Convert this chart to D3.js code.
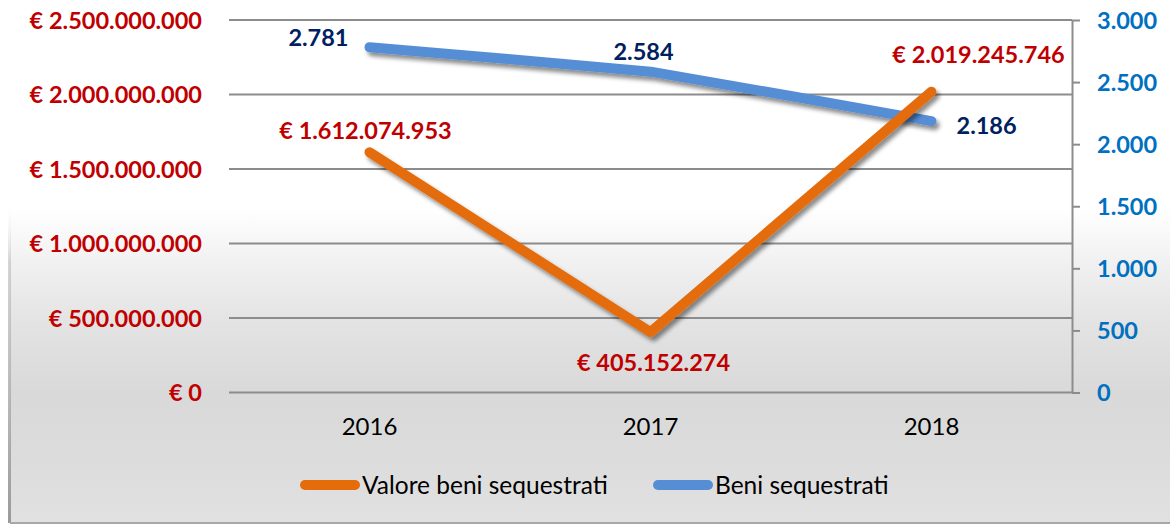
<!DOCTYPE html>
<html><head><meta charset="utf-8">
<script src="https://cdn.jsdelivr.net/npm/d3@7"></script>
<style>html,body{margin:0;padding:0;background:#fff;}svg{display:block;}</style>
</head><body>
<svg id="c" width="1170" height="525"></svg>
<script>
const categories = ["2016", "2017", "2018"];
const valoreBeni = [1612074953, 405152274, 2019245746];
const beniSequestrati = [2781, 2584, 2186];
const leftTicks = [0, 500000000, 1000000000, 1500000000, 2000000000, 2500000000];
const rightTicks = [0, 500, 1000, 1500, 2000, 2500, 3000];
const seriesNames = ["Valore beni sequestrati", "Beni sequestrati"];

const W = 1170, H = 525;
const plot = {l: 229, r: 1072, t: 20, b: 392.5};
const FONT = "Lato, 'Open Sans', sans-serif";
const orange = "#E46C0A", blue = "#558ED5";

const it = d3.formatLocale({decimal: ",", thousands: ".", grouping: [3], currency: ["€ ", ""]});
const fEur = it.format("$,.0f");
const fNum = it.format(",.0f");

const svg = d3.select("#c");
const defs = svg.append("defs");
const bg = defs.append("linearGradient").attr("id", "bg").attr("x1", 0).attr("y1", 0).attr("x2", 0).attr("y2", 1);
[[0, "#ffffff"], [0.4, "#ffffff"], [0.5, "#f1f1f1"], [0.62, "#e3e3e3"], [0.75, "#d9d9d9"], [0.88, "#dcdcdc"], [1, "#e1e1e1"]]
  .forEach(([o, c]) => bg.append("stop").attr("offset", o).attr("stop-color", c));
const sh = defs.append("linearGradient").attr("id", "sh").attr("x1", 0).attr("y1", 0).attr("x2", 0).attr("y2", 1);
[[0, "#ffffff", 0], [0.38, "#ffffff", 0], [0.5, "#b8b8b8", 0.6], [1, "#9a9a9a", 1]]
  .forEach(([o, c, op]) => sh.append("stop").attr("offset", o).attr("stop-color", c).attr("stop-opacity", op));
const f = defs.append("filter").attr("id", "ds").attr("x", "-10%").attr("y", "-20%").attr("width", "130%").attr("height", "150%");
f.append("feDropShadow").attr("dx", 3).attr("dy", 4).attr("stdDeviation", 2.2).attr("flood-color", "#000").attr("flood-opacity", 0.45);

svg.append("rect").attr("x", 0).attr("y", 0).attr("width", W).attr("height", H).attr("fill", "#fff");
svg.append("rect").attr("x", 10).attr("y", 0).attr("width", W - 10).attr("height", 523).attr("fill", "url(#bg)");
svg.append("rect").attr("x", 8).attr("y", 0).attr("width", 3).attr("height", 523).attr("fill", "url(#sh)");
svg.append("rect").attr("x", 10).attr("y", 522).attr("width", W - 10).attr("height", 2).attr("fill", "#a8a8a8");

const x = d3.scaleBand().domain(categories).range([plot.l, plot.r]);
const yL = d3.scaleLinear().domain([0, 2500000000]).range([plot.b, plot.t]);
const yR = d3.scaleLinear().domain([0, 3000]).range([plot.b, plot.t]);

// gridlines
svg.append("g").selectAll("line").data(leftTicks).join("line")
  .attr("x1", plot.l).attr("x2", plot.r)
  .attr("y1", d => yL(d)).attr("y2", d => yL(d))
  .attr("stroke", "#8c8c8c").attr("stroke-width", 2);

// left axis labels
const gL = svg.append("g").attr("transform", `translate(${plot.l - 27},0)`)
  .call(d3.axisLeft(yL).tickValues(leftTicks).tickFormat(fEur).tickSize(0).tickPadding(0));
gL.select(".domain").remove();
gL.selectAll("text").attr("font-family", FONT).attr("font-weight", "bold").attr("font-size", 23.5)
  .attr("fill", "#C00000").attr("dy", "0.36em");

// right axis
const gR = svg.append("g").attr("transform", `translate(${plot.r},0)`)
  .call(d3.axisRight(yR).tickValues(rightTicks).tickFormat(fNum).tickSize(8).tickSizeOuter(0).tickPadding(17));
gR.select(".domain").attr("stroke", "#8c8c8c").attr("stroke-width", 2);
gR.selectAll(".tick line").attr("stroke", "#8c8c8c").attr("stroke-width", 2);
gR.selectAll("text").attr("font-family", FONT).attr("font-weight", "bold").attr("font-size", 23.5)
  .attr("fill", "#0070C0").attr("dy", "0.36em");

// x axis labels
const gX = svg.append("g").attr("transform", `translate(0,${plot.b})`)
  .call(d3.axisBottom(x).tickSize(0).tickPadding(25));
gX.select(".domain").remove();
gX.selectAll("text").attr("font-family", FONT).attr("font-size", 24).attr("fill", "#000");

const cx = d => x(d) + x.bandwidth() / 2;

// lines
const lineL = d3.line().x((d, i) => cx(categories[i])).y(d => yL(d)).curve(d3.curveLinear);
const lineR = d3.line().x((d, i) => cx(categories[i])).y(d => yR(d)).curve(d3.curveCardinal.tension(0.8));

svg.append("path").datum(beniSequestrati).attr("d", lineR).attr("fill", "none")
  .attr("stroke", blue).attr("stroke-width", 10).attr("stroke-linecap", "round").attr("stroke-linejoin", "round")
  .attr("filter", "url(#ds)");
svg.append("path").datum(valoreBeni).attr("d", lineL).attr("fill", "none")
  .attr("stroke", orange).attr("stroke-width", 10).attr("stroke-linecap", "round").attr("stroke-linejoin", "round")
  .attr("filter", "url(#ds)");

// data labels (offsets are layout only)
const orangeOff = [{dx: -4, dy: -22, a: "middle"}, {dx: 3, dy: 30, a: "middle"}, {dx: 47, dy: -37, a: "middle"}];
const blueOff = [{dx: -21, dy: -10, a: "end"}, {dx: -7, dy: -20, a: "middle"}, {dx: 25, dy: 4, a: "start"}];

svg.append("g").selectAll("text").data(valoreBeni).join("text")
  .attr("x", (d, i) => cx(categories[i]) + orangeOff[i].dx)
  .attr("y", (d, i) => yL(d) + orangeOff[i].dy)
  .attr("text-anchor", (d, i) => orangeOff[i].a).attr("dy", "0.36em")
  .attr("font-family", FONT).attr("font-weight", "bold").attr("font-size", 23.5).attr("fill", "#C00000")
  .text(d => fEur(d));
svg.append("g").selectAll("text").data(beniSequestrati).join("text")
  .attr("x", (d, i) => cx(categories[i]) + blueOff[i].dx)
  .attr("y", (d, i) => yR(d) + blueOff[i].dy)
  .attr("text-anchor", (d, i) => blueOff[i].a).attr("dy", "0.36em")
  .attr("font-family", FONT).attr("font-weight", "bold").attr("font-size", 23.5).attr("fill", "#002060")
  .text(d => fNum(d));

// legend
const legX = [300, 653], legY = 485;
const leg = svg.append("g").selectAll("g").data(seriesNames).join("g")
  .attr("transform", (d, i) => `translate(${legX[i]},${legY})`);
leg.append("line").attr("x1", 5).attr("x2", 55).attr("y1", 0).attr("y2", 0)
  .attr("stroke", (d, i) => [orange, blue][i]).attr("stroke-width", 10).attr("stroke-linecap", "round");
leg.append("text").attr("x", 62).attr("y", 0).attr("dy", "0.36em")
  .attr("font-family", FONT).attr("font-size", 24.5).attr("fill", "#000").text(d => d);
</script>
</body></html>
